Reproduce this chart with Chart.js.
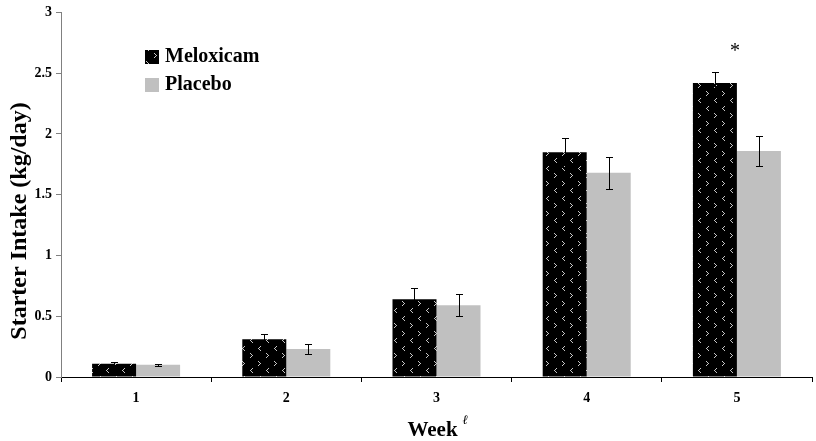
<!DOCTYPE html>
<html>
<head>
<meta charset="utf-8">
<script src="https://cdn.jsdelivr.net/npm/chart.js@4.4.1/dist/chart.umd.min.js"></script>
<style>
  html, body { margin: 0; padding: 0; background: #fff; }
  #wrap { width: 816px; height: 441px; position: relative; }
</style>
</head>
<body>
<div id="wrap"><canvas id="c"></canvas></div>
<script>
// Weekly starter intake (kg/day), mean and SE per treatment
const weeks = ['1', '2', '3', '4', '5'];
const meloxicam = [0.11, 0.31, 0.64, 1.85, 2.42];
const meloxicamErr = [0.01, 0.04, 0.09, 0.12, 0.09];
const placebo = [0.10, 0.23, 0.59, 1.68, 1.86];
const placeboErr = [0.01, 0.04, 0.09, 0.13, 0.12];
const yTickLabels = ['0', '0.5', '1', '1.5', '2', '2.5', '3'];
const significance = ['', '', '', '', '*'];
const significanceLevel = 2.68;

const FONT = '"Liberation Serif", "Times New Roman", serif';

// Black fill with small light chevrons
function makePattern() {
  const t = document.createElement('canvas');
  t.width = 16; t.height = 30;
  const g = t.getContext('2d');
  g.fillStyle = '#000';
  g.fillRect(0, 0, 16, 30);
  g.fillStyle = '#c8c8c8';
  function chevron(x, y, right) {
    const pts = right ? [[0,0],[1,1],[2,2],[1,3],[0,4]] : [[2,0],[1,1],[0,2],[1,3],[2,4]];
    pts.forEach(p => g.fillRect(x + p[0], y + p[1], 1, 1));
  }
  chevron(2, 1, true);
  chevron(10, 8, false);
  chevron(2, 16, false);
  chevron(10, 23, true);
  return g.createPattern(t, 'repeat');
}
const pattern = makePattern();

const errorBars = {
  id: 'errorBars',
  afterDatasetsDraw(chart) {
    const ctx = chart.ctx;
    const y = chart.scales.y;
    const errs = [meloxicamErr, placeboErr];
    ctx.save();
    ctx.strokeStyle = '#000';
    ctx.lineWidth = 1;
    chart.data.datasets.forEach((ds, di) => {
      const meta = chart.getDatasetMeta(di);
      meta.data.forEach((bar, i) => {
        const v = ds.data[i], e = errs[di][i];
        const x = Math.round(bar.x) + 0.5;
        const yt = Math.round(y.getPixelForValue(v + e)) + 0.5;
        const yb = Math.round(y.getPixelForValue(v - e)) + 0.5;
        ctx.beginPath();
        ctx.moveTo(x, yt); ctx.lineTo(x, yb);
        ctx.moveTo(x - 3.5, yt); ctx.lineTo(x + 3.5, yt);
        ctx.moveTo(x - 3.5, yb); ctx.lineTo(x + 3.5, yb);
        ctx.stroke();
      });
    });
    // significance marks above the Meloxicam bars
    const meta0 = chart.getDatasetMeta(0);
    ctx.fillStyle = '#000';
    ctx.font = '20px ' + FONT;
    ctx.textAlign = 'center';
    ctx.textBaseline = 'middle';
    significance.forEach((s, i) => {
      if (!s) return;
      const bar = meta0.data[i];
      ctx.fillText(s, bar.x + 20, y.getPixelForValue(significanceLevel));
    });
    ctx.restore();
  },
  afterDraw(chart) {
    const ctx = chart.ctx;
    ctx.save();
    ctx.fillStyle = '#000';
    // y axis title
    ctx.font = 'bold 24px ' + FONT;
    ctx.textAlign = 'center';
    ctx.textBaseline = 'middle';
    ctx.translate(20, 221);
    ctx.rotate(-Math.PI / 2);
    ctx.fillText('Starter Intake (kg/day)', 0, 0);
    ctx.restore();

    ctx.save();
    ctx.fillStyle = '#000';
    // x axis title with superscript
    ctx.font = 'bold 21px ' + FONT;
    ctx.textBaseline = 'alphabetic';
    ctx.textAlign = 'left';
    const w = ctx.measureText('Week').width;
    const cx = (chart.chartArea.left + chart.chartArea.right) / 2;
    const x0 = cx - w / 2 - 4;
    ctx.fillText('Week', x0, 436);
    ctx.font = 'italic 13px ' + FONT;
    ctx.fillText('\u2113', x0 + w + 5, 424);

    // legend
    ctx.font = 'bold 20px ' + FONT;
    ctx.textBaseline = 'middle';
    ctx.fillStyle = pattern;
    ctx.fillRect(145, 50, 14, 14);
    ctx.fillStyle = '#c0c0c0';
    ctx.fillRect(145, 78, 14, 14);
    ctx.fillStyle = '#000';
    ctx.fillText('Meloxicam', 165, 57);
    ctx.fillText('Placebo', 165, 85);
    ctx.restore();
  }
};

new Chart(document.getElementById('c'), {
  type: 'bar',
  data: {
    labels: weeks,
    datasets: [
      { label: 'Meloxicam', data: meloxicam, backgroundColor: pattern, borderWidth: 0,
        barPercentage: 1, categoryPercentage: 0.586 },
      { label: 'Placebo', data: placebo, backgroundColor: '#c0c0c0', borderWidth: 0,
        barPercentage: 1, categoryPercentage: 0.586 }
    ]
  },
  options: {
    responsive: true,
    maintainAspectRatio: false,
    animation: false,
    layout: { padding: { top: 8, right: 4, left: 0, bottom: 0 } },
    plugins: { legend: { display: false }, tooltip: { enabled: false } },
    scales: {
      x: {
        afterFit: s => { s.height = 64; },
        border: { display: true, color: '#000', width: 1 },
        grid: { display: true, drawOnChartArea: false, drawTicks: true, tickLength: 5, color: '#000', offset: true },
        ticks: { color: '#000', padding: 8, font: { family: FONT, size: 14, weight: 'bold' } }
      },
      y: {
        min: 0, max: 3,
        afterFit: s => { s.width = 61; },
        border: { display: true, color: '#808080', width: 1 },
        grid: { display: true, drawOnChartArea: false, drawTicks: true, tickLength: 5, color: '#808080' },
        ticks: {
          stepSize: 0.5, color: '#000', padding: 4,
          font: { family: FONT, size: 14, weight: 'bold' },
          callback: (v, i) => yTickLabels[i]
        }
      }
    }
  },
  plugins: [errorBars]
});
</script>
</body>
</html>
